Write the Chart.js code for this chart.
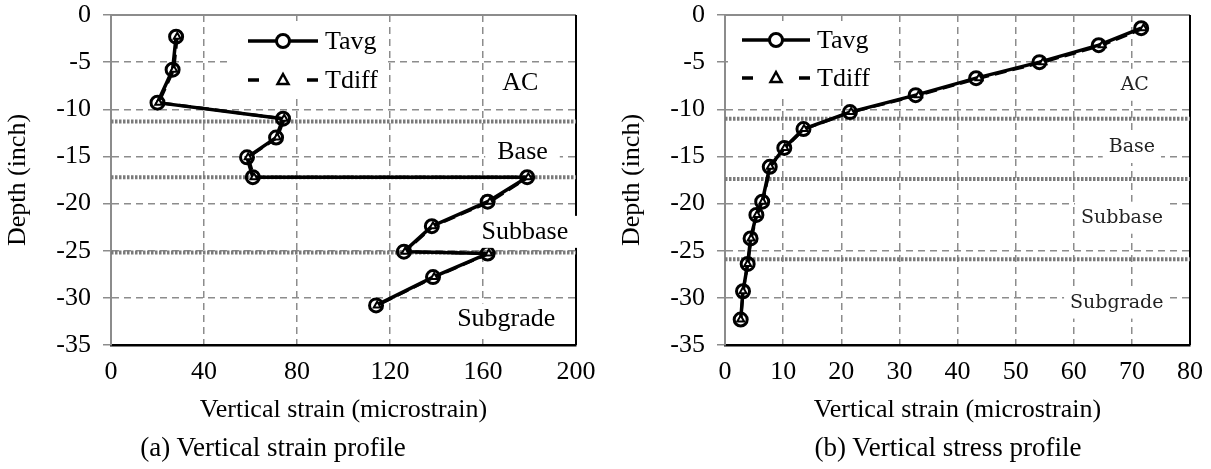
<!DOCTYPE html>
<html>
<head>
<meta charset="utf-8">
<script src="https://cdn.jsdelivr.net/npm/chart.js@4.4.0/dist/chart.umd.min.js"></script>
<style>
  body { margin: 0; background: #fff; width: 1211px; height: 469px; position: relative; overflow: hidden;
         font-family: "Liberation Serif", "Times New Roman", serif; }
  .wrap { position: absolute; top: 0; width: 597px; height: 440px; }
  .cap { position: absolute; top: 431px; font-size: 27px; line-height: 32px; white-space: nowrap; text-align: center; }
</style>
</head>
<body>
<div class="wrap" style="left:0"><canvas id="strainChart" width="597" height="440"></canvas></div>
<div class="wrap" style="left:614px"><canvas id="stressChart" width="597" height="440"></canvas></div>
<div class="cap" style="left:123px;width:300px">(a) Vertical strain profile</div>
<div class="cap" style="left:798px;width:300px">(b) Vertical stress profile</div>
<script>
// (a) vertical strain, microstrain vs depth (inch)
const strainDepth = [-2.3, -5.8, -9.3, -11.0, -13.0, -15.1, -17.2, -17.2, -19.8, -22.4, -25.1, -25.3, -27.8, -30.8];
const strainTavg  = [28, 26.5, 20, 74, 71, 58.5, 61, 179, 162, 138, 126, 162, 138.5, 114];
const strainTdiff = [28.5, 27, 20.5, 74.5, 71.5, 59, 61.5, 179.5, 163, 138.5, 126.5, 162.5, 139, 114.5];

// (b) vertical stress
const stressDepth = [-1.4, -3.2, -5.0, -6.7, -8.5, -10.3, -12.1, -14.1, -16.1, -19.8, -21.2, -23.7, -26.4, -29.3, -32.3];
const stressTavg  = [71.6, 64.3, 54.1, 43.2, 32.8, 21.5, 13.5, 10.2, 7.7, 6.4, 5.4, 4.4, 3.9, 3.1, 2.7];
const stressTdiff = [72.0, 64.9, 54.7, 43.7, 33.3, 21.7, 13.6, 10.3, 7.8, 6.5, 5.5, 4.5, 3.9, 3.1, 2.7];

// layer boundaries (depth)
const strainLayers = [-11.3, -17.2, -25.2];
const stressLayers = [-11.0, -17.4, -25.9];
const layerNames = ['AC', 'Base', 'Subbase', 'Subgrade'];

// tick labels
const strainTicks = [0, 40, 80, 120, 160, 200];
const stressTicks = [0, 10, 20, 30, 40, 50, 60, 70, 80];
const depthTicks  = [0, -5, -10, -15, -20, -25, -30, -35];

const FONT = '"Liberation Serif", "Times New Roman", serif';

const toPoints = (xs, ys) => xs.map((x, i) => ({ x: x, y: ys[i] }));

// frame: gray top, black right
const framePlugin = {
  id: 'frame',
  beforeDatasetsDraw(chart) {
    const { ctx, chartArea: a } = chart;
    ctx.save();
    ctx.lineWidth = 2;
    ctx.strokeStyle = '#8c8c8c';
    ctx.beginPath(); ctx.moveTo(a.left, a.top); ctx.lineTo(a.right, a.top); ctx.stroke();
    ctx.strokeStyle = '#000';
    ctx.beginPath(); ctx.moveTo(a.right, a.top); ctx.lineTo(a.right, a.bottom); ctx.stroke();
    ctx.restore();
  }
};

// layer names and legend, drawn over the lines with white boxes
const notesPlugin = {
  id: 'notes',
  afterDatasetsDraw(chart, args, opts) {
    const { ctx, scales } = chart;
    ctx.save();
    ctx.textAlign = 'center';
    ctx.textBaseline = 'middle';
    ctx.font = opts.labelFont;
    opts.labels.forEach((p, i) => {
      const px = scales.x.getPixelForValue(p.x);
      const py = scales.y.getPixelForValue(p.y);
      const w = ctx.measureText(layerNames[i]).width;
      ctx.fillStyle = '#fff';
      ctx.fillRect(px - w / 2 - opts.boxPad, py - 16, w + opts.boxPad * 2, 32);
      ctx.fillStyle = opts.labelColor;
      ctx.fillText(layerNames[i], px, py);
    });

    const L = opts.legend;
    ctx.fillStyle = '#fff';
    ctx.fillRect(L.box[0], L.box[1], L.box[2], L.box[3]);
    ctx.strokeStyle = '#000';
    ctx.lineWidth = 3.5;
    // Tavg row
    ctx.beginPath(); ctx.moveTo(L.x0, L.rows[0]); ctx.lineTo(L.x1, L.rows[0]); ctx.stroke();
    const mx = (L.x0 + L.x1) / 2;
    ctx.fillStyle = '#fff';
    ctx.lineWidth = 3;
    ctx.beginPath(); ctx.arc(mx, L.rows[0], 6.5, 0, Math.PI * 2); ctx.fill(); ctx.stroke();
    // Tdiff row
    ctx.lineWidth = 3.5;
    ctx.beginPath();
    ctx.moveTo(L.x0, L.rows[1]); ctx.lineTo(L.x0 + 11, L.rows[1]);
    ctx.moveTo(L.x1 - 11, L.rows[1]); ctx.lineTo(L.x1, L.rows[1]);
    ctx.stroke();
    ctx.lineWidth = 2.5;
    ctx.beginPath();
    ctx.moveTo(mx, L.rows[1] - 6); ctx.lineTo(mx + 5.5, L.rows[1] + 4); ctx.lineTo(mx - 5.5, L.rows[1] + 4);
    ctx.closePath(); ctx.fill(); ctx.stroke();
    ctx.fillStyle = '#000';
    ctx.font = '26px ' + FONT;
    ctx.textAlign = 'left';
    ctx.fillText('Tavg', L.x1 + 7, L.rows[0] + 1);
    ctx.fillText('Tdiff', L.x1 + 7, L.rows[1] + 1);
    ctx.restore();
  }
};

function makeChart(id, xs, tavg, tdiff, depth, layers, xTicks, notes) {
  const xMin = xTicks[0], xMax = xTicks[xTicks.length - 1];
  const layerSets = layers.map(d => ({
    data: [{ x: xMin, y: d }, { x: xMax, y: d }],
    borderColor: '#7a7a7a',
    borderWidth: 4,
    borderDash: [2.5, 1.5],
    pointRadius: 0,
    showLine: true,
    order: 3
  }));
  return new Chart(document.getElementById(id), {
    type: 'scatter',
    data: {
      datasets: [
        ...layerSets,
        {
          label: 'Tavg',
          data: toPoints(tavg, depth),
          showLine: true,
          borderColor: '#000',
          borderWidth: 3.5,
          pointStyle: 'circle',
          pointRadius: 6.5,
          pointBorderWidth: 3,
          pointBackgroundColor: 'rgba(255,255,255,0)',
          pointBorderColor: '#000',
          order: 2
        },
        {
          label: 'Tdiff',
          data: toPoints(tdiff, depth),
          showLine: true,
          borderColor: '#000',
          borderWidth: 3,
          borderDash: [12, 6],
          pointStyle: 'triangle',
          pointRadius: 4,
          pointBorderWidth: 2,
          pointBackgroundColor: '#fff',
          pointBorderColor: '#000',
          order: 1
        }
      ]
    },
    options: {
      responsive: false,
      animation: false,
      devicePixelRatio: 1,
      layout: { padding: { top: 15, right: 21, left: 0, bottom: 0 } },
      plugins: {
        legend: { display: false },
        tooltip: { enabled: false },
        notes: notes
      },
      scales: {
        x: {
          type: 'linear',
          min: xMin,
          max: xMax,
          afterBuildTicks: s => { s.ticks = xTicks.map(v => ({ value: v })); },
          afterFit: s => { s.height = 95; s.paddingLeft = 0; s.paddingRight = 0; },
          grid: { color: '#8c8c8c', lineWidth: 1.5, drawTicks: false },
          border: { color: '#000', width: 2.5, dash: [7, 5] },
          ticks: { color: '#000', padding: 12, font: { family: FONT, size: 26 } },
          title: {
            display: true,
            text: 'Vertical strain (microstrain)',
            color: '#000',
            font: { family: FONT, size: 26 },
            padding: { top: 0, bottom: 14 }
          }
        },
        y: {
          type: 'linear',
          min: -35,
          max: 0,
          afterBuildTicks: s => { s.ticks = depthTicks.map(v => ({ value: v })); },
          afterFit: s => { s.width = 111; s.paddingTop = 0; s.paddingBottom = 0; },
          grid: { color: '#8c8c8c', lineWidth: 1.5, tickLength: 8 },
          border: { color: '#8c8c8c', width: 2, dash: [7, 5] },
          ticks: { color: '#000', padding: 12, font: { family: FONT, size: 26 } },
          title: {
            display: true,
            text: 'Depth (inch)',
            color: '#000',
            font: { family: FONT, size: 26 },
            padding: { top: 3, bottom: 0 }
          }
        }
      }
    },
    plugins: [framePlugin, notesPlugin]
  });
}

makeChart('strainChart', strainTicks, strainTavg, strainTdiff, strainDepth, strainLayers, strainTicks, {
  labelFont: '26px ' + FONT,
  labelColor: '#000',
  boxPad: 12,
  labels: [{ x: 176, y: -7.2 }, { x: 177, y: -14.5 }, { x: 178, y: -23.0 }, { x: 170, y: -32.3 }],
  legend: { box: [228, 21, 160, 78], x0: 248, x1: 318, rows: [41, 80] }
});

makeChart('stressChart', stressTicks, stressTavg, stressTdiff, stressDepth, stressLayers, stressTicks, {
  labelFont: '19px "DejaVu Serif", serif',
  labelColor: '#222',
  boxPad: 6,
  labels: [{ x: 70.5, y: -7.4 }, { x: 70, y: -14.0 }, { x: 68.3, y: -21.5 }, { x: 67.4, y: -30.5 }],
  legend: { box: [114, 21, 162, 78], x0: 128, x1: 196, rows: [40, 78] }
});
</script>
</body>
</html>
